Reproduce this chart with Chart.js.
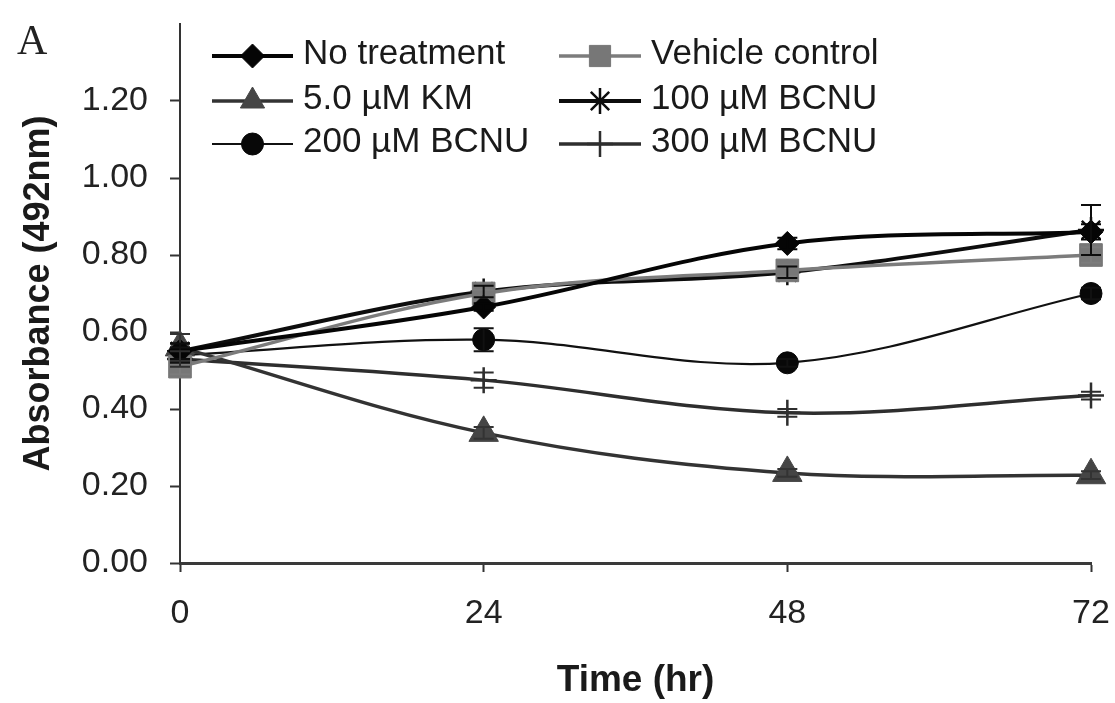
<!DOCTYPE html>
<html>
<head>
<meta charset="utf-8">
<script src="https://cdn.jsdelivr.net/npm/chart.js@4.4.1/dist/chart.umd.min.js"></script>
<style>
  html, body { margin: 0; padding: 0; background: #fff; }
  #wrap { width: 1115px; height: 703px; }
</style>
</head>
<body>
<div id="wrap"><canvas id="absChart" width="1115" height="703"></canvas></div>
<script>
// time points (hr) and absorbance readings
const hours = [0, 24, 48, 72];
const xTickLabels = ['0', '24', '48', '72'];

const noTreatment = [0.55, 0.665, 0.83, 0.86];
const vehicleControl = [0.51, 0.70, 0.76, 0.80];
const km5 = [0.56, 0.338, 0.234, 0.228];
const bcnu100 = [0.55, 0.705, 0.755, 0.865];
const bcnu200 = [0.54, 0.58, 0.52, 0.70];
const bcnu300 = [0.53, 0.475, 0.39, 0.435];

// standard deviations (error bars)
const noTreatmentErr = [0.02, 0.01, 0.015, 0.02];
const vehicleControlErr = [0.02, 0.01, 0.015, 0.02];
const km5Err = [0.035, 0.015, 0.01, 0.01];
const bcnu100Err = [0.02, 0.015, 0.015, 0.065];
const bcnu200Err = [0.02, 0.03, 0.01, 0.015];
const bcnu300Err = [0.02, 0.02, 0.01, 0.01];

const seriesNames = ['No treatment', 'Vehicle control', '5.0 µM KM', '100 µM BCNU', '200 µM BCNU', '300 µM BCNU'];

function pts(values) {
  return values.map((v, i) => ({ x: hours[i], y: v }));
}

const styles = [
  { color: '#050505', fill: '#050505', width: 4, style: 'rectRot', radius: 12, err: noTreatmentErr },
  { color: '#7c7c7c', fill: '#777777', width: 3.5, style: 'rect', radius: 16, err: vehicleControlErr },
  { color: '#333333', fill: '#454545', width: 3.5, style: 'triangle', radius: 17, err: km5Err },
  { color: '#0d0d0d', fill: '#0d0d0d', width: 4, style: 'star', radius: 13, err: bcnu100Err },
  { color: '#111111', fill: '#080808', width: 2.2, style: 'circle', radius: 11, err: bcnu200Err },
  { color: '#2e2e2e', fill: '#2e2e2e', width: 3.5, style: 'cross', radius: 13, err: bcnu300Err }
];
const allValues = [noTreatment, vehicleControl, km5, bcnu100, bcnu200, bcnu300];

const datasets = allValues.map((vals, i) => {
  const s = styles[i];
  const line = s.style === 'star' || s.style === 'cross';
  return {
    label: seriesNames[i],
    data: pts(vals),
    borderColor: s.color,
    borderWidth: s.width,
    backgroundColor: s.fill,
    pointStyle: s.style,
    pointRadius: s.radius,
    pointBackgroundColor: s.fill,
    pointBorderColor: s.fill,
    pointBorderWidth: line ? 2.5 : 1,
    tension: 0.35,
    fill: false,
    clip: false,
    errors: s.err
  };
});

const errorBars = {
  id: 'errorBars',
  afterDatasetsDraw(chart) {
    const { ctx, scales: { x, y } } = chart;
    ctx.save();
    chart.data.datasets.forEach(ds => {
      ds.errors.forEach((e, i) => {
        const px = x.getPixelForValue(ds.data[i].x);
        const top = y.getPixelForValue(ds.data[i].y + e);
        const bot = y.getPixelForValue(ds.data[i].y - e);
        ctx.strokeStyle = ds.borderColor;
        ctx.lineWidth = 2;
        ctx.beginPath();
        ctx.moveTo(px, top); ctx.lineTo(px, bot);
        ctx.moveTo(px - 10, top); ctx.lineTo(px + 10, top);
        ctx.moveTo(px - 10, bot); ctx.lineTo(px + 10, bot);
        ctx.stroke();
      });
    });
    ctx.restore();
  }
};

// legend drawn inside the plot, two columns like the original figure
const insideLegend = {
  id: 'insideLegend',
  afterDraw(chart) {
    const { ctx } = chart;
    const rowY = [56, 101, 144];
    const cols = [{ x0: 212, x1: 293, tx: 303 }, { x0: 559, x1: 641, tx: 651 }];
    ctx.save();
    chart.data.datasets.forEach((ds, i) => {
      const c = cols[i % 2];
      const y = rowY[Math.floor(i / 2)];
      ctx.strokeStyle = ds.borderColor;
      ctx.lineWidth = ds.borderWidth;
      ctx.beginPath();
      ctx.moveTo(c.x0, y); ctx.lineTo(c.x1, y);
      ctx.stroke();
      ctx.fillStyle = ds.pointBackgroundColor;
      ctx.strokeStyle = ds.pointBorderColor;
      ctx.lineWidth = ds.pointBorderWidth;
      Chart.helpers.drawPoint(ctx, {
        pointStyle: ds.pointStyle,
        radius: ds.pointStyle === 'rect' ? 15 : ds.pointStyle === 'triangle' ? 14 : ds.pointRadius,
        rotation: 0,
        borderWidth: ds.pointBorderWidth
      }, (c.x0 + c.x1) / 2, y);
      ctx.fillStyle = '#1a1a1a';
      ctx.font = '35px "Liberation Sans", Arial, sans-serif';
      ctx.textBaseline = 'middle';
      ctx.textAlign = 'left';
      ctx.fillText(ds.label, c.tx, y - 2);
    });
    // panel letter
    ctx.fillStyle = '#222';
    ctx.font = '42px "Liberation Serif", serif';
    ctx.textBaseline = 'alphabetic';
    ctx.fillText('A', 17, 54);
    ctx.restore();
  }
};

Chart.defaults.font.family = '"Liberation Sans", Arial, sans-serif';
Chart.defaults.color = '#222';

new Chart(document.getElementById('absChart'), {
  type: 'line',
  data: { datasets },
  options: {
    responsive: false,
    animation: false,
    events: [],
    layout: { padding: { top: 24, right: 24, left: 0, bottom: 0 } },
    plugins: { legend: { display: false }, tooltip: { enabled: false } },
    scales: {
      x: {
        type: 'linear',
        min: 0,
        max: 72,
        afterFit: s => { s.height = 140; s.paddingLeft = 0; s.paddingRight = 0; },
        afterBuildTicks: s => { s.ticks = hours.map(v => ({ value: v })); },
        ticks: {
          padding: 21,
          font: { size: 34 },
          color: '#222',
          callback: (v) => xTickLabels[hours.indexOf(v)]
        },
        grid: { drawOnChartArea: false, drawTicks: true, tickLength: 9, tickWidth: 2, tickColor: '#333' },
        border: { color: '#3a3a3a', width: 3 },
        title: {
          display: true,
          text: 'Time (hr)',
          font: { size: 37, weight: 'bold' },
          color: '#1a1a1a',
          padding: { top: 0, bottom: 0 }
        }
      },
      y: {
        min: 0,
        max: 1.4,
        afterFit: s => { s.width = 180; s.paddingTop = 0; s.paddingBottom = 0; },
        ticks: {
          stepSize: 0.2,
          padding: 22,
          font: { size: 34 },
          color: '#222',
          callback: v => (v > 1.3 ? '' : v.toFixed(2))
        },
        grid: {
          drawOnChartArea: false,
          drawTicks: true,
          tickLength: 10,
          tickWidth: 2,
          tickColor: c => (c.tick && c.tick.value > 1.3 ? 'rgba(0,0,0,0)' : '#333')
        },
        border: { color: '#333', width: 2 },
        title: {
          display: true,
          text: 'Absorbance (492nm)',
          font: { size: 36, weight: 'bold' },
          color: '#1a1a1a',
          padding: { top: 17, bottom: 0 }
        }
      }
    }
  },
  plugins: [errorBars, insideLegend]
});
</script>
</body>
</html>
